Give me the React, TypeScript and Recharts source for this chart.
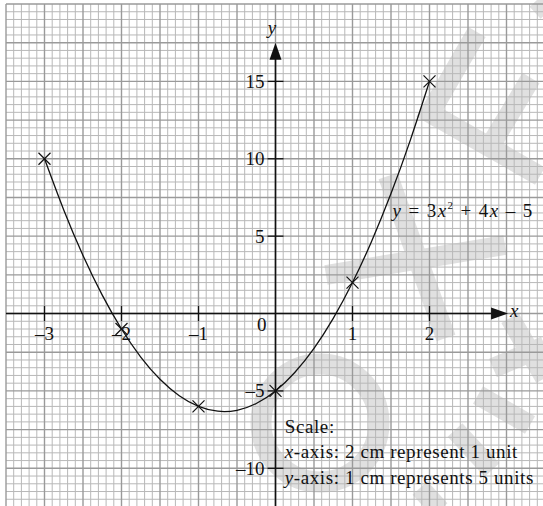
import React from 'react';
import { ComposedChart, XAxis, YAxis, Line, Scatter, ReferenceLine, ReferenceDot } from 'recharts';

// plotted points (marked with crosses)
const pointX = [-3, -2, -1, 0, 1, 2];
const pointY = [10, -1, -6, -5, 2, 15];

// curve
const curveX = [-3, -2.75, -2.5, -2.25, -2, -1.75, -1.5, -1.25, -1, -0.75, -0.5, -0.25, 0, 0.25, 0.5, 0.75, 1, 1.25, 1.5, 1.75, 2];
const curveY = [10, 6.69, 3.75, 1.19, -1, -2.81, -4.25, -5.31, -6, -6.31, -6.25, -5.81, -5, -3.81, -2.25, -0.31, 2, 4.69, 7.75, 11.19, 15];

const xTicks = [-3, -2, -1, 1, 2];
const xTickLabels = ['–3', '–2', '–1', '1', '2'];
const yTicks = [15, 10, 5, -5, -10];
const yTickLabels = ['15', '10', '5', '–5', '–10'];

const X_DOMAIN: [number, number] = [-3.5, 3.5];
const Y_DOMAIN: [number, number] = [-12.5, 20];

const points = pointX.map((x, i) => ({ x, y: pointY[i] }));
const curve = curveX.map((x, i) => ({ x, y: curveY[i] }));

// graph paper lines: 2 mm squares, heavier every 1 cm
const gridLines = (a: number, b: number, step: number, every: number) => {
    const minor: number[] = [];
    const major: number[] = [];
    const n = Math.round((b - a) / step);
    for (let i = 0; i <= n; i++) {
        const v = Math.round((a + i * step) * 100) / 100;
        (i % every === 0 ? major : minor).push(v);
    }
    return { minor, major };
};
const gx = gridLines(X_DOMAIN[0], X_DOMAIN[1], 0.1, 5);
const gy = gridLines(Y_DOMAIN[0], Y_DOMAIN[1], 0.5, 5);

const FONT = '"Liberation Serif", "Times New Roman", serif';
const FS = 19;
const LS = 0.6;

const Cross = (props: any) => {
    const { cx, cy } = props;
    const s = 6;
    return (
        <g stroke="#111" strokeWidth={1.2}>
            <line x1={cx - s} y1={cy - s} x2={cx + s} y2={cy + s} />
            <line x1={cx - s} y1={cy + s} x2={cx + s} y2={cy - s} />
        </g>
    );
};

const XTick = (label: string) => (props: any) => {
    const { cx, cy } = props;
    return (
        <g>
            <line x1={cx} y1={cy - 7.5} x2={cx} y2={cy + 7.5} stroke="#111" strokeWidth={1.3} />
            <text x={cx} y={cy + 26} textAnchor="middle" fontFamily={FONT} fontSize={FS} fill="#111">{label}</text>
        </g>
    );
};

const YTick = (label: string) => (props: any) => {
    const { cx, cy } = props;
    return (
        <g>
            <line x1={cx - 8} y1={cy} x2={cx + 8} y2={cy} stroke="#111" strokeWidth={1.3} />
            <text x={cx - 11} y={cy + 6.5} textAnchor="end" fontFamily={FONT} fontSize={FS} fill="#111">{label}</text>
        </g>
    );
};

const ArrowRight = (props: any) => {
    const { cx, cy } = props;
    return <polygon points={`${cx},${cy} ${cx - 17},${cy - 6} ${cx - 17},${cy + 6}`} fill="#111" />;
};

const ArrowUp = (props: any) => {
    const { cx, cy } = props;
    return <polygon points={`${cx},${cy} ${cx - 6},${cy + 17} ${cx + 6},${cy + 17}`} fill="#111" />;
};

const Note = (content: React.ReactNode, spacing = 0) => (props: any) => {
    const { cx, cy } = props;
    return (
        <text x={cx} y={cy} fontFamily={FONT} fontSize={FS} letterSpacing={spacing} fill="#111">{content}</text>
    );
};

const Watermark = () => (
    <svg width={543} height={506} style={{ position: 'absolute', left: 0, top: 0 }}>
        <g stroke="#e0e0e0" strokeWidth={20} fill="none" strokeLinecap="butt">
            <polyline points="477,32 430,113 540,176" />
            <line x1={531} y1={78} x2={492} y2={143} />
            <line x1={537} y1={0} x2={548} y2={12} />
            <line x1={388} y1={176} x2={446} y2={338} />
            <line x1={326} y1={275} x2={505} y2={245} />
            <circle cx={320} cy={423} r={59} strokeWidth={21} />
            <line x1={493} y1={368} x2={545} y2={346} />
            <line x1={478} y1={395} x2={530} y2={425} />
            <line x1={455} y1={430} x2={492} y2={470} />
            <line x1={510} y1={318} x2={545} y2={378} />
            <line x1={420} y1={488} x2={440} y2={510} />
        </g>
    </svg>
);

export default function App() {
    return (
        <div style={{ position: 'absolute', left: 0, top: 0, width: 543, height: 506, overflow: 'hidden', background: '#fff' }}>
            <Watermark />
            <div style={{ position: 'absolute', left: 0, top: 0 }}>
                <ComposedChart width={545} height={507} margin={{ top: 4, right: 0, bottom: 0, left: 6 }}>
                    <XAxis type="number" dataKey="x" domain={X_DOMAIN} allowDataOverflow hide />
                    <YAxis type="number" dataKey="y" domain={Y_DOMAIN} allowDataOverflow hide width={0} />

                    {gx.minor.map(v => <ReferenceLine key={`gxm${v}`} x={v} stroke="#b8b8b8" strokeWidth={1} />)}
                    {gy.minor.map(v => <ReferenceLine key={`gym${v}`} y={v} stroke="#b8b8b8" strokeWidth={1} />)}
                    {gx.major.map(v => <ReferenceLine key={`gxM${v}`} x={v} stroke="#9a9a9a" strokeWidth={1.4} />)}
                    {gy.major.map(v => <ReferenceLine key={`gyM${v}`} y={v} stroke="#9a9a9a" strokeWidth={1.4} />)}

                    {/* axes */}
                    <ReferenceLine segment={[{ x: -3.5, y: 0 }, { x: 2.85, y: 0 }]} stroke="#111" strokeWidth={1.6} />
                    <ReferenceLine segment={[{ x: 0, y: -12.5 }, { x: 0, y: 16.5 }]} stroke="#111" strokeWidth={1.6} />
                    <ReferenceDot x={3.02} y={0} r={0} shape={ArrowRight} />
                    <ReferenceDot x={0} y={17.5} r={0} shape={ArrowUp} />

                    {xTicks.map((t, i) => (
                        <ReferenceDot key={`xt${t}`} x={t} y={0} r={0} shape={XTick(xTickLabels[i])} />
                    ))}
                    {yTicks.map((t, i) => (
                        <ReferenceDot key={`yt${t}`} x={0} y={t} r={0} shape={YTick(yTickLabels[i])} />
                    ))}
                    <ReferenceDot x={-0.24} y={-1.13} r={0} shape={Note('0')} />
                    <ReferenceDot x={3.045} y={-0.25} r={0} shape={Note(<tspan fontStyle="italic">x</tspan>)} />
                    <ReferenceDot x={-0.1} y={18.05} r={0} shape={Note(<tspan fontStyle="italic">y</tspan>)} />

                    <Line data={curve} dataKey="y" type="natural" dot={false} stroke="#111" strokeWidth={1.3} isAnimationActive={false} />
                    <Scatter data={points} dataKey="y" shape={Cross} isAnimationActive={false} />

                    <ReferenceDot x={1.52} y={6.23} r={0} shape={Note(
                        <>
                            <tspan fontStyle="italic">y</tspan> = 3<tspan fontStyle="italic">x</tspan>
                            <tspan fontSize={11} dy={-8}>2</tspan>
                            <tspan dy={8}> + 4</tspan><tspan fontStyle="italic">x</tspan> – 5
                        </>, 1.4
                    )} />
                    <ReferenceDot x={0.12} y={-7.7} r={0} shape={Note('Scale:', LS)} />
                    <ReferenceDot x={0.12} y={-9.35} r={0} shape={Note(<><tspan fontStyle="italic">x</tspan>-axis: 2 cm represent 1 unit</>, LS)} />
                    <ReferenceDot x={0.12} y={-11.0} r={0} shape={Note(<><tspan fontStyle="italic">y</tspan>-axis: 1 cm represents 5 units</>, LS)} />
                </ComposedChart>
            </div>
        </div>
    );
}
